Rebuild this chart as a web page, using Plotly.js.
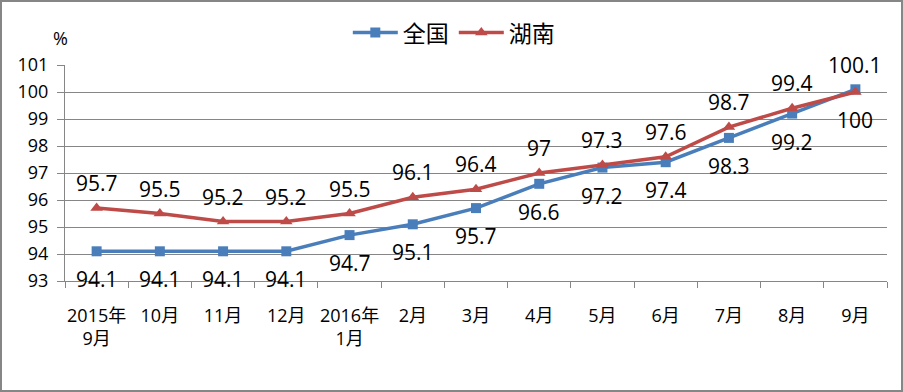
<!DOCTYPE html>
<html><head><meta charset="utf-8">
<script src="https://cdn.plot.ly/plotly-3.0.1.min.js"></script>
<style>
html,body{margin:0;padding:0;background:#fff;}
#chart{width:903px;height:392px;border:2px solid #868686;box-sizing:border-box;}
</style>
</head><body>
<div id="chart"></div>
<script>
const categories = ["2015年<br>9月","10月","11月","12月","2016年<br>1月","2月","3月","4月","5月","6月","7月","8月","9月"];
const seriesNames = ["全国","湖南"];
const national = [94.1,94.1,94.1,94.1,94.7,95.1,95.7,96.6,97.2,97.4,98.3,99.2,100.1];
const hunan = [95.7,95.5,95.2,95.2,95.5,96.1,96.4,97,97.3,97.6,98.7,99.4,100];
const yTicks = [93,94,95,96,97,98,99,100,101];

const blue = "#4A7EBB", red = "#BE4B48";
const font = "'Open Sans', 'Noto Sans CJK SC', sans-serif";
const cjk = "'Noto Sans CJK SC', sans-serif";

const traces = [
  {x: categories, y: national, name: seriesNames[0], type: "scatter", mode: "lines+markers",
   line: {color: blue, width: 3.5}, marker: {symbol: "square", size: 10, color: blue}},
  {x: categories, y: hunan, name: seriesNames[1], type: "scatter", mode: "lines+markers",
   line: {color: red, width: 3.5}, marker: {symbol: "triangle-up", size: 11, color: red}}
];

const annotations = [];
const last = categories.length - 1;
national.forEach((v, i) => {
  annotations.push({x: categories[i], y: v, xref: "x", yref: "y", text: String(v), showarrow: false,
    yshift: i === last ? 24 : -28, font: {family: font, size: 21, color: "#000"}});
});
hunan.forEach((v, i) => {
  annotations.push({x: categories[i], y: v, xref: "x", yref: "y", text: String(v), showarrow: false,
    yshift: i === last ? -28 : 25, font: {family: font, size: 21, color: "#000"}});
});
annotations.push({x: 0, y: 1, xref: "paper", yref: "paper", xanchor: "center", yanchor: "middle",
  yshift: 27, xshift: -5, text: "%", showarrow: false, font: {family: font, size: 18, color: "#000"}});

const layout = {
  width: 899, height: 388,
  margin: {l: 63, r: 14, t: 63, b: 109, autoexpand: false},
  paper_bgcolor: "#fff", plot_bgcolor: "#fff",
  showlegend: true,
  legend: {orientation: "h", x: 0.473, xanchor: "center", y: 1.15, yanchor: "middle",
    font: {family: cjk, size: 23, color: "#000"}, itemwidth: 45,
    traceorder: "normal"},
  xaxis: {type: "category", range: [-0.5, 12.5], showgrid: false, zeroline: false,
    showline: true, linecolor: "#868686", linewidth: 1,
    ticks: "outside", tickson: "boundaries", ticklen: 6, tickcolor: "#868686",
    ticklabelstandoff: 18, tickangle: 0,
    tickfont: {family: font, size: 18, color: "#000"}, fixedrange: true},
  yaxis: {range: [93, 101], tickvals: yTicks, showgrid: true, gridcolor: "#868686", gridwidth: 1,
    zeroline: false, showline: true, linecolor: "#868686", linewidth: 1,
    ticks: "outside", ticklen: 7, tickcolor: "#868686",
    tickfont: {family: font, size: 18, color: "#000"}, ticklabelstandoff: 5, fixedrange: true},
  annotations: annotations
};

Plotly.newPlot("chart", traces, layout, {displayModeBar: false, staticPlot: true});
</script>
</body></html>
